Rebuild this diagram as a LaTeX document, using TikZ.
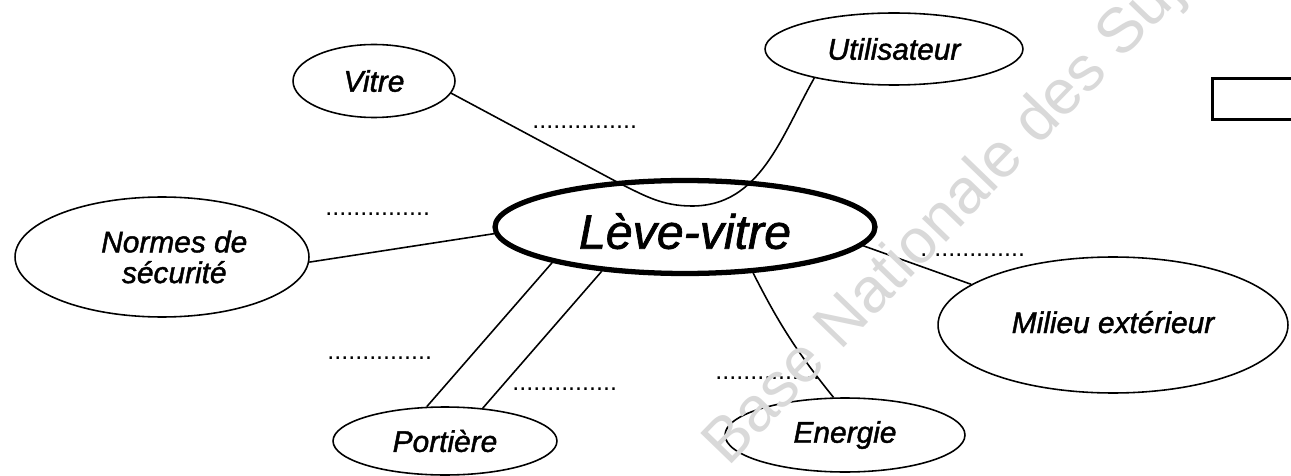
\documentclass[tikz,border=0pt]{standalone}
\usepackage{fontspec}
\setmainfont{Liberation Sans}
\newfontfamily\dfont{Liberation Sans}[ItalicFeatures={FakeBold=1.4}]
\usetikzlibrary{shapes.geometric}
\begin{document}
\begin{tikzpicture}[x=0.02cm,y=-0.02cm,
  ell/.style={draw, ellipse, line width=0.9pt, inner sep=0pt, align=center,
    font=\dfont\fontsize{17}{17.5}\selectfont\itshape},
  conn/.style={line width=0.9pt},
  blank/.style={anchor=base west, inner sep=0pt, font=\fontsize{14.3}{14}\selectfont},
  wmark/.style={anchor=base west, inner sep=0pt, rotate=46, text=black!15,
    font=\fontsize{36}{36}\selectfont}
]
\useasboundingbox (0,0) rectangle (1291,476);
\fill[white] (0,0) rectangle (1291,476);

% nodes
\node[ell, minimum width=3.24cm, minimum height=1.46cm] (vitre) at (374,81) {Vitre};
\node[ell, minimum width=5.16cm, minimum height=1.44cm] (util) at (894,49) {Utilisateur};
\node[ell, minimum width=5.88cm, minimum height=2.40cm] (normes) at (162,257) {\hspace*{14pt}Normes de\\\hspace*{14pt}sécurité};
\node[ell, line width=3pt, minimum width=7.60cm, minimum height=1.86cm,
  font=\dfont\fontsize{27.5}{30}\selectfont\itshape] (leve) at (685,227)
  {\raisebox{-0.45em}[0pt][0pt]{Lève-vitre}};
\node[ell, minimum width=7.00cm, minimum height=2.72cm] (milieu) at (1113,325) {\raisebox{0.2em}{Milieu extérieur}};
\node[ell, minimum width=4.48cm, minimum height=1.36cm] (portiere) at (445,441) {Portière};
\node[ell, minimum width=4.80cm, minimum height=1.48cm] (energie) at (845,435) {Energie};

\node[draw, line width=1.7pt, minimum width=2.4cm, minimum height=0.82cm,
  anchor=north west, inner sep=0pt] (box) at (1211,77) {};

% connectors
\coordinate (v1) at (617,182);
\coordinate (v2) at (692,206);
\draw[conn] (vitre.-9) -- (v1) .. controls (645,196) and (662,206) .. (v2)
  .. controls (760,206) and (781,137) .. (util.-160);
\draw[conn] (normes.-2) -- (leve.182);
\draw[conn] (leve.195) -- (portiere.118);
\draw[conn] (leve.208) -- (portiere.41);
\draw[conn] (leve.-34) to[bend right=6] (energie.107);
\draw[conn] (leve.-6) -- (milieu.164);

% blanks
\node[blank] (b1) at (532,129) {...............};
\node[blank] (b2) at (325,215) {...............};
\node[blank] (b3) at (920,256) {...............};
\node[blank] (b4) at (327,359) {...............};
\node[blank] (b5) at (512,390) {...............};
\node[blank] (b6) at (715,379) {...............};

% watermark
\node[wmark] (wm) at (728,468) {Base Nationale des Sujets};
\end{tikzpicture}
\end{document}
